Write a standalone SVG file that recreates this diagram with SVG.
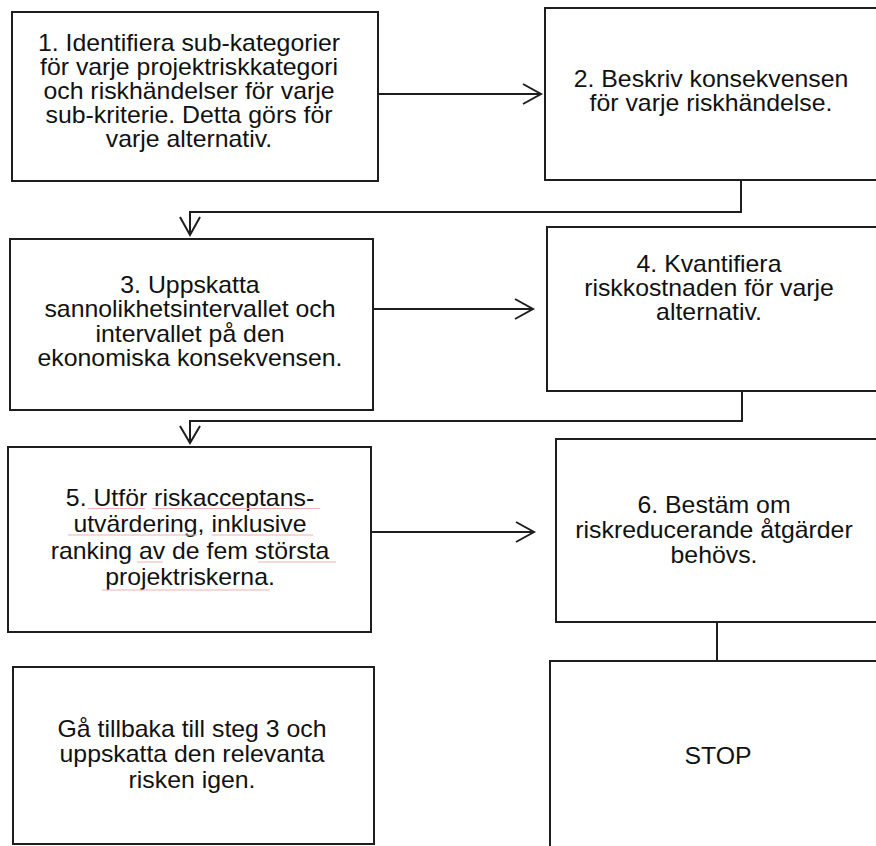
<svg xmlns="http://www.w3.org/2000/svg" width="876" height="846" viewBox="0 0 876 846">
<style>
.box{fill:#fff;stroke:#1e1e1e;stroke-width:2}
.t{font-family:"Liberation Sans",Arial,sans-serif;font-size:23px;fill:#111;text-anchor:middle}
.c{fill:none;stroke:#1e1e1e;stroke-width:2}
.ah{fill:none;stroke:#1e1e1e;stroke-width:2;stroke-linejoin:miter}
.sq{stroke:#f2b0b0;stroke-width:1.2;fill:none}
</style>
<rect width="876" height="846" fill="#fff"/>
<g id="connectors">
<path class="c" d="M378,94 H541"/>
<path class="ah" d="M523,84 L541,94 L523,104"/>
<path class="c" d="M741,180 V212 H190 V235"/>
<path class="ah" d="M180,217 L190,235 L200,217"/>
<path class="c" d="M373,309 H533"/>
<path class="ah" d="M515,299 L533,309 L515,319"/>
<path class="c" d="M742,391 V421 H190 V443"/>
<path class="ah" d="M180,426 L190,443 L200,426"/>
<path class="c" d="M371,532 H534"/>
<path class="ah" d="M516,522 L534,532 L516,542"/>
<path class="c" d="M717,622 V661"/>
</g>
<g id="n1">
<rect class="box" x="12" y="12" width="366" height="169"/>
<g transform="translate(189,0) scale(1.08,1)">
<text class="t" x="0" y="51">1. Identifiera sub-kategorier</text>
<text class="t" x="0" y="75">för varje projektriskkategori</text>
<text class="t" x="0" y="99">och riskhändelser för varje</text>
<text class="t" x="0" y="123">sub-kriterie. Detta görs för</text>
<text class="t" x="0" y="147">varje alternativ.</text>
</g>
</g>
<g id="n2">
<rect class="box" x="545" y="8" width="333" height="172"/>
<g transform="translate(711,0) scale(1.08,1)">
<text class="t" x="0" y="87">2. Beskriv konsekvensen</text>
<text class="t" x="0" y="111">för varje riskhändelse.</text>
</g>
</g>
<g id="n3">
<rect class="box" x="10" y="239" width="363" height="171"/>
<g transform="translate(190,0) scale(1.08,1)">
<text class="t" x="0" y="293">3. Uppskatta</text>
<text class="t" x="0" y="317.5">sannolikhetsintervallet och</text>
<text class="t" x="0" y="342">intervallet på den</text>
<text class="t" x="0" y="366.5">ekonomiska konsekvensen.</text>
</g>
</g>
<g id="n4">
<rect class="box" x="547" y="227" width="331" height="164"/>
<g transform="translate(709,0) scale(1.08,1)">
<text class="t" x="0" y="272">4. Kvantifiera</text>
<text class="t" x="0" y="296">riskkostnaden för varje</text>
<text class="t" x="0" y="320">alternativ.</text>
</g>
</g>
<g id="n5">
<rect class="box" x="8" y="447" width="363" height="185"/>
<g transform="translate(190,0) scale(1.08,1)">
<text class="t" x="0" y="506">5. Utför riskacceptans-</text>
<text class="t" x="0" y="532.5">utvärdering, inklusive</text>
<text class="t" x="0" y="559">ranking av de fem största</text>
<text class="t" x="0" y="585.5">projektriskerna.</text>
</g>
<path class="sq" d="M88,508.5 H145 M152,508.5 H320 M68,535 H197 M212,535 H313 M137,562 H163 M258,562 H336 M102,590 H270"/>
</g>
<g id="n6">
<rect class="box" x="556" y="439" width="322" height="183"/>
<g transform="translate(714,0) scale(1.08,1)">
<text class="t" x="0" y="513">6. Bestäm om</text>
<text class="t" x="0" y="538">riskreducerande åtgärder</text>
<text class="t" x="0" y="563">behövs.</text>
</g>
</g>
<g id="n7">
<rect class="box" x="13" y="667" width="361" height="177"/>
<g transform="translate(192,0) scale(1.08,1)">
<text class="t" x="0" y="737">Gå tillbaka till steg 3 och</text>
<text class="t" x="0" y="762.5">uppskatta den relevanta</text>
<text class="t" x="0" y="788">risken igen.</text>
</g>
</g>
<g id="stop">
<rect class="box" x="550" y="661" width="330" height="200"/>
<g transform="translate(718,0) scale(1.08,1)">
<text class="t" x="0" y="764">STOP</text>
</g>
</g>
</svg>
